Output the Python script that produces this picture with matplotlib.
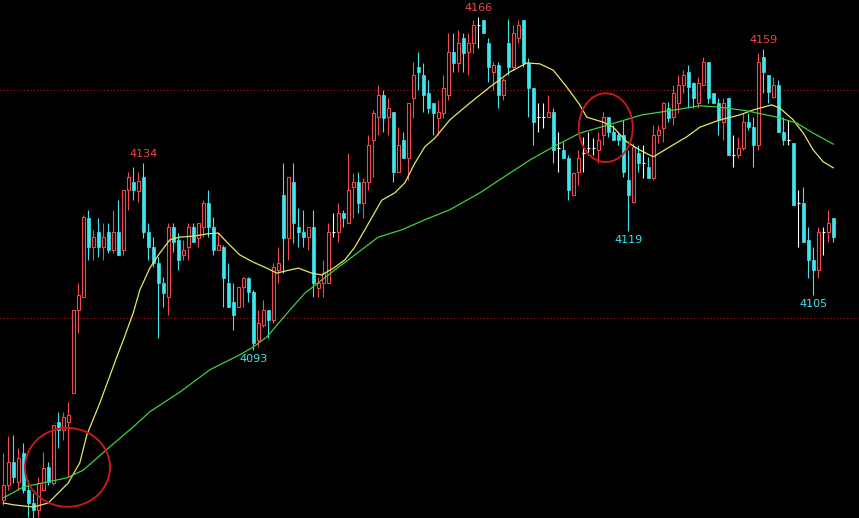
import matplotlib
matplotlib.use("Agg")
import matplotlib.pyplot as plt
from matplotlib.patches import Ellipse
import numpy as np

# OHLC for each bar
opens = [4060.1, 4063.3, 4068.4, 4064.0, 4070.4, 4062.2, 4059.4, 4057.9, 4062.2, 4067.3,
         4063.8, 4077.2, 4075.4, 4077.2, 4083.5, 4101.7, 4104.6, 4121.9, 4115.5, 4118.8,
         4115.5, 4118.8, 4114.9, 4118.8, 4114.9, 4128.0, 4129.8, 4127.8, 4130.9, 4118.8,
         4115.5, 4112.0, 4107.6, 4104.6, 4119.9, 4117.1, 4113.8, 4115.5, 4119.9, 4117.5,
         4119.9, 4125.2, 4119.9, 4114.9, 4115.5, 4107.6, 4103.5, 4102.4, 4106.8, 4108.7,
         4105.7, 4095.1, 4098.4, 4101.7, 4099.5, 4110.5, 4126.9, 4117.5, 4129.8, 4119.9,
         4118.8, 4117.7, 4119.9, 4106.5, 4107.6, 4107.6, 4118.8, 4118.8, 4123.0, 4120.8,
         4128.7, 4129.8, 4125.2, 4129.8, 4139.0, 4144.0, 4148.9, 4144.0, 4145.1, 4132.0,
         4139.0, 4135.1, 4148.2, 4155.0, 4153.3, 4149.3, 4147.1, 4143.8, 4144.9, 4148.9,
         4158.3, 4155.9, 4161.4, 4158.3, 4160.3, 4164.2, 4165.3, 4160.3, 4153.9, 4155.4,
         4148.9, 4160.3, 4155.0, 4161.4, 4165.3, 4155.9, 4150.4, 4144.0, 4144.0, 4144.0,
         4145.1, 4137.2, 4136.8, 4135.1, 4126.9, 4132.0, 4136.1, 4137.2, 4137.2, 4136.8,
         4140.1, 4144.0, 4140.8, 4140.1, 4140.1, 4130.2, 4125.4, 4136.1, 4134.0, 4133.1,
         4130.7, 4140.1, 4141.6, 4146.0, 4144.0, 4147.1, 4151.1, 4153.9, 4151.5, 4147.1,
         4151.1, 4156.1, 4149.3, 4147.1, 4142.9, 4148.2, 4135.7, 4135.7, 4137.2, 4142.9,
         4141.8, 4137.9, 4157.2, 4153.3, 4148.4, 4151.1, 4140.8, 4139.0, 4138.3, 4125.2,
         4125.2, 4117.1, 4112.7, 4110.5, 4118.8, 4118.8, 4121.9]
highs = [4070.4, 4074.1, 4074.3, 4071.5, 4072.6, 4064.4, 4061.6, 4065.1, 4070.6, 4068.4,
         4076.5, 4079.3, 4079.3, 4081.5, 4101.7, 4107.6, 4122.6, 4123.6, 4119.3, 4121.9,
         4120.8, 4120.8, 4123.6, 4125.8, 4128.0, 4132.0, 4133.1, 4132.0, 4134.0, 4120.8,
         4117.7, 4113.3, 4109.0, 4120.8, 4120.8, 4118.6, 4117.1, 4120.8, 4120.8, 4120.8,
         4125.8, 4128.0, 4122.1, 4118.6, 4116.0, 4112.0, 4107.6, 4106.8, 4109.0, 4109.0,
         4106.1, 4101.7, 4103.9, 4101.7, 4112.0, 4115.5, 4134.0, 4130.9, 4134.0, 4124.1,
         4123.6, 4119.9, 4123.6, 4109.0, 4112.7, 4120.8, 4123.0, 4125.2, 4123.6, 4136.1,
         4131.8, 4132.0, 4130.7, 4140.1, 4145.6, 4151.1, 4150.0, 4148.2, 4145.1, 4141.8,
         4140.8, 4147.1, 4156.1, 4158.3, 4155.9, 4152.2, 4147.1, 4147.8, 4153.3, 4162.5,
         4162.5, 4163.1, 4162.5, 4162.5, 4165.3, 4166.0, 4165.3, 4161.4, 4156.1, 4156.1,
         4152.6, 4165.5, 4164.2, 4165.3, 4165.3, 4157.0, 4150.4, 4147.1, 4147.1, 4148.9,
         4146.0, 4140.8, 4138.6, 4135.7, 4132.0, 4136.8, 4139.7, 4140.8, 4139.4, 4140.8,
         4145.1, 4144.0, 4142.3, 4140.8, 4143.4, 4136.8, 4138.3, 4137.9, 4137.9, 4135.3,
         4142.3, 4142.3, 4147.3, 4147.3, 4151.1, 4153.3, 4154.3, 4155.4, 4151.7, 4152.8,
         4157.2, 4156.1, 4149.3, 4148.2, 4148.2, 4148.2, 4140.1, 4139.7, 4144.9, 4144.9,
         4144.0, 4158.1, 4159.0, 4153.3, 4152.8, 4152.2, 4144.0, 4143.4, 4138.3, 4128.0,
         4128.7, 4119.9, 4115.5, 4119.9, 4119.9, 4123.6, 4121.9]
lows = [4059.0, 4062.2, 4063.8, 4062.2, 4061.6, 4056.3, 4056.1, 4056.3, 4062.2, 4063.3,
        4063.3, 4071.5, 4073.2, 4065.1, 4083.5, 4096.7, 4104.6, 4112.7, 4112.7, 4113.3,
        4112.7, 4114.2, 4114.2, 4113.8, 4113.8, 4123.6, 4125.8, 4125.4, 4117.5, 4112.7,
        4111.1, 4095.6, 4102.4, 4100.6, 4114.4, 4110.5, 4112.7, 4112.7, 4116.6, 4115.5,
        4117.7, 4117.7, 4113.8, 4114.9, 4102.4, 4102.4, 4097.3, 4102.4, 4102.4, 4103.5,
        4093.0, 4093.5, 4098.0, 4095.6, 4098.9, 4107.6, 4109.8, 4112.7, 4116.4, 4115.5,
        4115.5, 4114.9, 4104.6, 4104.6, 4104.6, 4107.6, 4117.7, 4116.6, 4119.9, 4120.8,
        4121.9, 4123.0, 4121.9, 4128.0, 4130.9, 4140.1, 4140.8, 4140.1, 4129.8, 4132.0,
        4135.0, 4130.2, 4143.8, 4150.0, 4145.1, 4144.9, 4140.1, 4140.1, 4143.8, 4147.8,
        4153.9, 4153.9, 4153.9, 4153.3, 4158.1, 4159.2, 4162.5, 4151.7, 4150.0, 4146.0,
        4147.8, 4153.3, 4154.3, 4160.3, 4155.0, 4144.0, 4137.9, 4140.8, 4141.6, 4144.0,
        4134.0, 4132.0, 4135.1, 4125.8, 4126.9, 4129.1, 4132.0, 4135.7, 4135.7, 4134.0,
        4137.9, 4139.7, 4139.0, 4137.9, 4130.9, 4119.0, 4125.2, 4132.0, 4130.7, 4130.7,
        4130.2, 4138.3, 4138.6, 4142.9, 4142.3, 4144.9, 4149.3, 4146.0, 4146.0, 4146.0,
        4151.1, 4147.1, 4147.1, 4140.1, 4139.0, 4135.7, 4133.1, 4135.1, 4136.8, 4141.2,
        4133.1, 4136.8, 4149.3, 4147.1, 4148.2, 4140.8, 4137.9, 4137.9, 4124.7, 4115.5,
        4116.6, 4108.7, 4105.0, 4108.7, 4113.8, 4116.6, 4116.6]
closes = [4063.3, 4068.4, 4065.1, 4069.3, 4062.2, 4059.4, 4057.9, 4063.8, 4067.1, 4064.0,
          4076.5, 4075.4, 4078.3, 4078.7, 4101.7, 4105.0, 4122.1, 4115.5, 4117.7, 4115.5,
          4117.7, 4114.9, 4118.8, 4113.8, 4128.0, 4130.9, 4128.0, 4130.0, 4118.8, 4115.5,
          4112.0, 4107.6, 4105.4, 4119.9, 4116.6, 4112.7, 4114.9, 4119.9, 4116.6, 4120.8,
          4125.2, 4119.9, 4114.9, 4116.0, 4108.7, 4102.4, 4100.6, 4106.8, 4108.7, 4105.7,
          4094.5, 4098.9, 4101.7, 4099.5, 4111.1, 4112.0, 4117.5, 4130.9, 4120.8, 4118.8,
          4117.7, 4119.9, 4107.6, 4107.6, 4109.8, 4118.8, 4118.8, 4123.0, 4121.9, 4128.0,
          4129.8, 4125.2, 4129.8, 4137.9, 4144.9, 4148.9, 4143.8, 4146.0, 4132.0, 4137.9,
          4135.1, 4147.1, 4153.3, 4153.9, 4148.9, 4146.0, 4144.9, 4145.1, 4150.4, 4158.3,
          4155.9, 4160.3, 4158.1, 4160.3, 4164.2, 4164.2, 4162.5, 4155.0, 4155.4, 4148.9,
          4152.2, 4155.0, 4162.5, 4164.2, 4155.9, 4150.4, 4142.9, 4144.0, 4144.0, 4145.1,
          4136.8, 4137.2, 4135.1, 4128.0, 4131.8, 4135.1, 4136.1, 4137.2, 4137.2, 4139.0,
          4144.0, 4140.8, 4139.0, 4139.0, 4132.0, 4126.9, 4137.5, 4134.0, 4134.0, 4130.7,
          4140.1, 4141.2, 4147.1, 4143.8, 4149.3, 4151.1, 4153.3, 4150.6, 4148.2, 4151.5,
          4156.1, 4148.2, 4147.1, 4143.4, 4147.1, 4135.7, 4135.7, 4137.2, 4142.9, 4141.8,
          4137.9, 4156.1, 4153.9, 4149.5, 4151.1, 4140.8, 4139.0, 4139.0, 4124.7, 4125.2,
          4116.6, 4112.7, 4110.5, 4118.8, 4118.8, 4120.8, 4117.7]

# moving average lines, read at bar positions
ma_fast_idx = [0, 2, 6, 9, 13, 15.3, 16.7, 19.3, 22.7, 24, 26, 27.3, 29.3, 31.3, 33.3, 35.3,
               38, 40.7, 43, 44.7, 47.3, 50, 52.7, 54.7, 57.3, 59, 61.7, 63.7, 66.3, 68.3,
               70.3, 72.3, 75.7, 78.3, 80.3, 82.3, 84.3, 86.3, 89.3, 93.3, 97.3, 101.3,
               104.7, 107.3, 110, 112.7, 115.3, 116.7, 120, 122, 124.7, 127.3, 130, 133.3,
               136.7, 139.3, 143.3, 147.3, 150, 153.7, 155.3, 158, 160, 162, 164, 166]
ma_fast = [4059.4, 4059.0, 4058.5, 4059.4, 4063.8, 4068.2, 4074.3, 4081.3, 4091.4, 4095.1,
           4101.1, 4106.1, 4110.9, 4114.2, 4117.1, 4117.7, 4117.9, 4118.4, 4118.6, 4116.6,
           4113.8, 4112.2, 4110.9, 4109.8, 4110.5, 4110.9, 4109.8, 4109.4, 4111.1, 4112.7,
           4115.5, 4119.3, 4125.8, 4127.4, 4129.6, 4133.9, 4137.5, 4139.4, 4143.4, 4147.1,
           4150.6, 4153.9, 4155.9, 4155.7, 4154.3, 4150.6, 4146.7, 4144.0, 4142.9, 4141.8,
           4138.6, 4136.8, 4135.3, 4137.5, 4139.7, 4141.8, 4143.4, 4144.5, 4145.6, 4146.7,
           4146.0, 4143.4, 4140.5, 4136.8, 4134.2, 4132.9]
ma_slow_idx = [0, 4, 12.7, 16, 21.3, 26, 29.3, 35.3, 41.3, 47.3, 50, 52.7, 57.3, 60.3, 66.3,
               69.7, 75, 79.7, 84.3, 89.3, 95.3, 100.7, 105.3, 110, 115.3, 121, 127.7,
               134.3, 139.3, 143.3, 148.7, 154.7, 158.7, 162, 166]
ma_slow = [4060.5, 4062.9, 4064.9, 4066.6, 4071.7, 4076.1, 4079.4, 4083.7, 4088.6, 4091.9,
           4093.6, 4095.8, 4101.7, 4105.4, 4110.5, 4113.3, 4117.7, 4119.3, 4121.5, 4123.7,
           4127.4, 4131.3, 4134.6, 4137.5, 4140.5, 4142.3, 4144.5, 4145.6, 4146.5, 4146.2,
           4145.4, 4144.0, 4142.7, 4140.5, 4138.1]

# marked extremes: (bar, price, is_high)
peak_bars = [28, 95, 152]
trough_bars = [50, 125, 162]

UP = '#f04a4a'
DOWN = '#3fe6ee'
DOJI = '#ffffff'

fig = plt.figure(figsize=(8.59, 5.18), dpi=100, facecolor='black')
ax = fig.add_axes([0, 0, 1, 1])
ax.set_facecolor('black')

x = np.arange(len(opens))
o = np.array(opens)
h = np.array(highs)
l = np.array(lows)
c = np.array(closes)
w = 0.7

up = c > o
dn = c < o
dj = c == o
top = np.maximum(o, c)
bot = np.minimum(o, c)

# up bars: hollow red, wick outside the body only
ax.vlines(x[up], top[up], h[up], color=UP, lw=0.8, zorder=2)
ax.vlines(x[up], l[up], bot[up], color=UP, lw=0.8, zorder=2)
ax.bar(x[up], top[up] - bot[up], bottom=bot[up], width=w, facecolor='black',
       edgecolor=UP, linewidth=0.8, zorder=3)
# down bars: filled cyan
ax.vlines(x[dn], l[dn], h[dn], color=DOWN, lw=0.8, zorder=2)
ax.bar(x[dn], top[dn] - bot[dn], bottom=bot[dn], width=w, color=DOWN,
       edgecolor=DOWN, linewidth=0.5, zorder=3)
# doji bars: white cross
ax.vlines(x[dj], l[dj], h[dj], color=DOJI, lw=0.8, zorder=2)
ax.hlines(o[dj], x[dj] - w / 2, x[dj] + w / 2, color=DOJI, lw=0.8, zorder=3)

ax.plot(ma_fast_idx, ma_fast, color='#e8e85c', lw=0.9, zorder=4)
ax.plot(ma_slow_idx, ma_slow, color='#3ed23e', lw=0.9, zorder=4)

for lvl in (4150, 4100):
    ax.axhline(lvl, color='#b01c1c', lw=0.8, ls=(0, (1, 2)), zorder=1)

for b in peak_bars:
    ax.annotate(f'{h[b]:.0f}', (x[b], h[b]), xytext=(0, 3), textcoords='offset points',
                ha='center', va='bottom', color=UP, fontsize=8, zorder=5)
for b in trough_bars:
    ax.annotate(f'{l[b]:.0f}', (x[b], l[b]), xytext=(0, -3), textcoords='offset points',
                ha='center', va='top', color=DOWN, fontsize=8, zorder=5)

ax.add_patch(Ellipse((12.84, 4067.2), 17, 17.3, fill=False, edgecolor='#c81818', lw=1.4, zorder=5))
ax.add_patch(Ellipse((120.5, 4141.7), 10.8, 15.1, fill=False, edgecolor='#c81818', lw=1.4, zorder=5))

ax.set_xlim(-0.66, 171.14)
ax.set_ylim(4056.1, 4169.7)
ax.axis('off')

fig.savefig('out.png', dpi=100, facecolor='black')
